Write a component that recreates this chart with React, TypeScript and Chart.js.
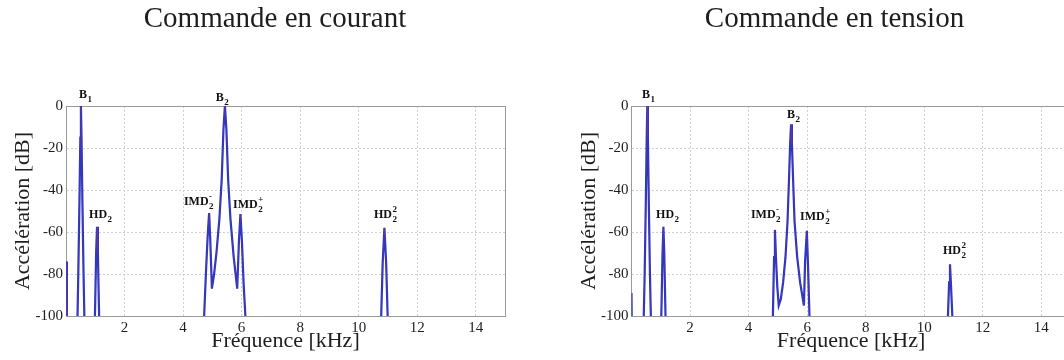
import React, { useEffect, useRef } from 'react';
import { Chart, registerables } from 'chart.js';

Chart.register(...registerables);

// ---- data ----
const titleCourant = 'Commande en courant';
const titleTension = 'Commande en tension';

const xTickValues = [2, 4, 6, 8, 10, 12, 14];
const yTickValues = [0, -20, -40, -60, -80, -100];

const freqCourant = [0, 0.03, 0.36, 0.42, 0.46, 0.49, 0.51, 0.53, 0.56, 0.6, 0.66, 0.95, 1.0, 1.03, 1.06, 1.09, 1.12, 1.17, 4.62, 4.72, 4.78, 4.84, 4.89, 4.93, 4.985, 5.06, 5.14, 5.24, 5.32, 5.38, 5.43, 5.48, 5.54, 5.62, 5.73, 5.85, 5.91, 5.96, 6.01, 6.07, 6.13, 6.22, 10.7, 10.77, 10.82, 10.88, 10.94, 10.99, 11.06, 15];
const accCourant = [-74, -125, -125, -80, -45, -15, 0, -15, -45, -80, -125, -125, -92, -70, -57.5, -70, -92, -125, -125, -100, -80, -62, -51, -64, -87, -80, -70, -54, -35, -11, 0, -11, -35, -54, -72, -87, -64, -51.5, -64, -85, -100, -125, -125, -100, -75, -58, -75, -100, -125, -125];

const freqTension = [0, 0.02, 0.38, 0.45, 0.49, 0.52, 0.54, 0.56, 0.59, 0.63, 0.7, 0.98, 1.03, 1.06, 1.09, 1.12, 1.15, 1.2, 4.75, 4.83, 4.87, 4.9, 4.94, 4.98, 5.03, 5.1, 5.18, 5.26, 5.33, 5.38, 5.42, 5.45, 5.48, 5.52, 5.57, 5.66, 5.76, 5.89, 5.93, 5.99, 6.03, 6.08, 6.14, 10.75, 10.81, 10.85, 10.88, 10.91, 10.96, 11.02, 15];
const accTension = [-89, -125, -125, -80, -45, -15, 0, -15, -45, -80, -125, -125, -92, -70, -57.5, -70, -92, -125, -125, -100, -72, -59, -74, -86, -95, -92, -84, -72, -55, -35, -18, -8.7, -18, -35, -55, -72, -84, -95, -74, -59.4, -76, -100, -125, -125, -100, -84, -75.4, -84, -100, -125, -125];

// peak labels: [text, subscript, superscript, freq (kHz), level (dB)]
const labelsCourant: [string, string, string, number, number][] = [
  ['B', '1', '', 0.44, 3.8],
  ['HD', '2', '', 0.79, -53.3],
  ['IMD', '2', '-', 4.03, -47.1],
  ['IMD', '2', '+', 5.71, -48.6],
  ['B', '2', '', 5.12, 2.4],
  ['HD', '2', '2', 10.52, -53.3],
];
const labelsTension: [string, string, string, number, number][] = [
  ['B', '1', '', 0.36, 3.8],
  ['HD', '2', '', 0.84, -53.3],
  ['IMD', '2', '-', 4.08, -53.3],
  ['IMD', '2', '+', 5.76, -54.3],
  ['B', '2', '', 5.31, -5.7],
  ['HD', '2', '2', 10.64, -70.5],
];

const xTitle = 'Fréquence [kHz]';
const yTitle = 'Accélération [dB]';

// ---- styling ----
const SERIF = '"Liberation Serif", "Times New Roman", serif';
const TEXT = '#1e1e1e';
const GRID = '#cdd2d7';
const BORDER = '#9a9a9a';

const peakLabelPlugin = {
  id: 'peakLabels',
  afterDatasetsDraw(chart: any, _args: any, opts: any) {
    const { ctx, scales } = chart;
    const items = opts.items || [];
    ctx.save();
    ctx.fillStyle = '#111';
    ctx.textBaseline = 'alphabetic';
    ctx.textAlign = 'left';
    for (const [txt, sub, sup, f, db] of items) {
      const px = scales.x.getPixelForValue(f);
      const py = scales.y.getPixelForValue(db);
      ctx.font = `bold 12px ${SERIF}`;
      ctx.fillText(txt, px, py);
      const w = ctx.measureText(txt).width;
      ctx.font = `bold 9px ${SERIF}`;
      if (sub) ctx.fillText(sub, px + w + 0.5, py + 4);
      if (sup) ctx.fillText(sup, px + w + 0.5, py - 6);
    }
    ctx.restore();
  },
};

type PanelProps = {
  left: number;
  width: number;
  yAxisWidth: number;
  rightWidth: number;
  title: string;
  freq: number[];
  acc: number[];
  labels: [string, string, string, number, number][];
};

function Panel({ left, width, yAxisWidth, rightWidth, title, freq, acc, labels }: PanelProps) {
  const ref = useRef<HTMLCanvasElement>(null);
  useEffect(() => {
    const points = freq.map((f, i) => ({ x: f, y: acc[i] }));
    const titleFont = 29;
    const chart = new Chart(ref.current as HTMLCanvasElement, {
      type: 'line',
      data: {
        datasets: [
          {
            data: points,
            borderColor: '#2536c4',
            borderWidth: 2.2,
            pointRadius: 0,
            tension: 0,
            order: 2,
          },
          {
            data: points,
            borderColor: 'rgba(215,60,95,0.3)',
            borderWidth: 0.6,
            pointRadius: 0,
            tension: 0,
            order: 1,
          },
        ],
      },
      options: {
        responsive: false,
        animation: false,
        events: [],
        layout: { padding: 0 },
        plugins: {
          legend: { display: false },
          tooltip: { enabled: false },
          title: {
            display: true,
            text: title,
            color: TEXT,
            font: { family: SERIF, size: titleFont, weight: 'normal', lineHeight: 1.2 },
            padding: { top: 2, bottom: 104 - titleFont * 1.2 },
          },
          peakLabels: { items: labels },
        } as any,
        scales: {
          x: {
            type: 'linear',
            position: 'bottom',
            min: 0,
            max: 15,
            afterBuildTicks: (axis: any) => {
              axis.ticks = xTickValues.map((v) => ({ value: v }));
            },
            afterFit: (axis: any) => {
              axis.height = 44;
            },
            ticks: {
              color: TEXT,
              padding: 3,
              maxRotation: 0,
              autoSkip: false,
              font: { family: SERIF, size: 15 },
              callback: (v: any) => String(v),
            },
            grid: { color: GRID, lineWidth: 1, drawTicks: false },
            border: { display: true, color: BORDER, width: 1, dash: [2, 2] },
            title: {
              display: true,
              text: xTitle,
              color: TEXT,
              font: { family: SERIF, size: 22, lineHeight: 1.2 },
              padding: { top: 0, bottom: 5.5 },
            },
          },
          y: {
            type: 'linear',
            position: 'left',
            min: -100,
            max: 0,
            afterBuildTicks: (axis: any) => {
              axis.ticks = yTickValues.map((v) => ({ value: v }));
            },
            afterFit: (axis: any) => {
              axis.width = yAxisWidth;
            },
            ticks: {
              color: TEXT,
              padding: 3,
              font: { family: SERIF, size: 15 },
              callback: (v: any) => String(v),
            },
            grid: { color: GRID, lineWidth: 1, drawTicks: false },
            border: { display: true, color: BORDER, width: 1, dash: [2, 2] },
            title: {
              display: true,
              text: yTitle,
              color: TEXT,
              font: { family: SERIF, size: 22, lineHeight: 1.2 },
              padding: { top: 10, bottom: 0 },
            },
          },
          yRight: {
            type: 'linear',
            position: 'right',
            min: -100,
            max: 0,
            afterFit: (axis: any) => {
              axis.width = rightWidth;
            },
            ticks: { display: false },
            grid: { display: false, drawTicks: false },
            border: { display: true, color: BORDER, width: 1 },
          },
          xTop: {
            type: 'linear',
            position: 'top',
            min: 0,
            max: 15,
            afterFit: (axis: any) => {
              axis.height = 0;
            },
            ticks: { display: false },
            grid: { display: false, drawTicks: false },
            border: { display: true, color: BORDER, width: 1 },
          },
        } as any,
      },
      plugins: [peakLabelPlugin as any],
    });
    return () => chart.destroy();
  }, []);
  return (
    <canvas
      ref={ref}
      width={width}
      height={360}
      style={{ position: 'absolute', left, top: 0, width, height: 360, display: 'block' }}
    />
  );
}

export default function App() {
  return (
    <div
      style={{
        position: 'absolute',
        left: 0,
        top: 0,
        width: 1064,
        height: 360,
        overflow: 'hidden',
        background: '#ffffff',
      }}
    >
      <Panel
        left={0}
        width={550}
        yAxisWidth={66}
        rightWidth={45}
        title={titleCourant}
        freq={freqCourant}
        acc={accCourant}
        labels={labelsCourant}
      />
      <Panel
        left={566}
        width={537}
        yAxisWidth={65.5}
        rightWidth={32.4}
        title={titleTension}
        freq={freqTension}
        acc={accTension}
        labels={labelsTension}
      />
    </div>
  );
}
